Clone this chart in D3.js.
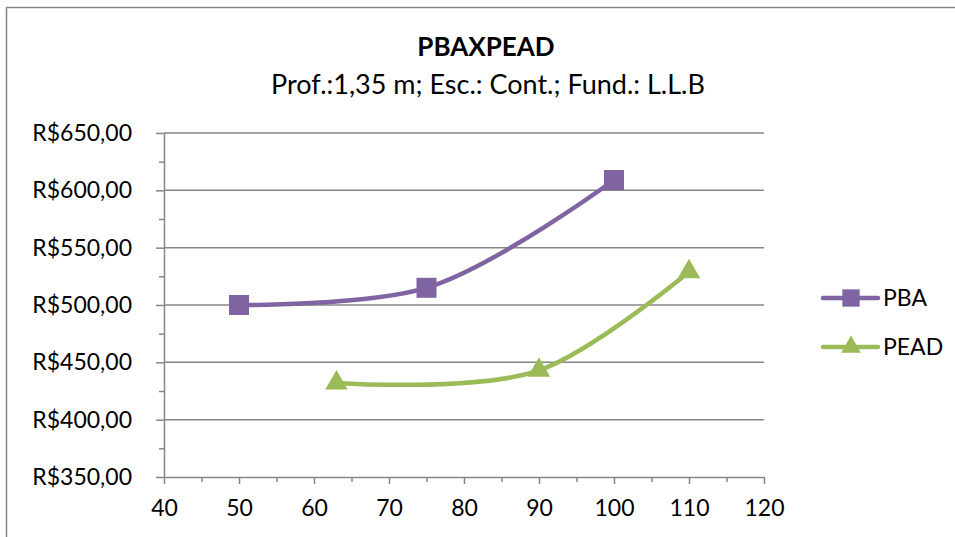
<!DOCTYPE html>
<html>
<head>
<meta charset="utf-8">
<script src="https://cdn.jsdelivr.net/npm/d3@7"></script>
<style>
  body { margin: 0; background: #fff; }
  svg text { font-family: Lato, "Open Sans", sans-serif; fill: #000; }
</style>
</head>
<body>
<div id="container"></div>
<script>
/* CONSTANTS AND GLOBALS */
const width = 955;
const height = 537;
const margin = { top: 133, bottom: 60, left: 164, right: 191 };

const title = "PBAXPEAD";
const subtitle = "Prof.:1,35 m; Esc.: Cont.; Fund.: L.L.B";

// series data
const seriesNames = ["PBA", "PEAD"];
const pbaX = [50, 75, 100];
const pbaY = [500, 515, 609];
const peadX = [63, 90, 110];
const peadY = [432, 443, 529];
const colors = ["#8064A2", "#9BBB59"];

const xTicks = [40, 50, 60, 70, 80, 90, 100, 110, 120];
const yTicks = [350, 400, 450, 500, 550, 600, 650];

const series = [
  { name: seriesNames[0], color: colors[0], symbol: d3.symbolSquare, pts: pbaX.map((x, i) => ({ x, y: pbaY[i] })) },
  { name: seriesNames[1], color: colors[1], symbol: d3.symbolTriangle, pts: peadX.map((x, i) => ({ x, y: peadY[i] })) }
];

const svg = d3.select("#container")
  .append("svg")
  .attr("width", width)
  .attr("height", height);

// chart border (only left + top visible in crop)
svg.append("rect")
  .attr("x", 6.5).attr("y", 7.5)
  .attr("width", width + 10).attr("height", height + 10)
  .attr("fill", "none")
  .attr("stroke", "#868686")
  .attr("stroke-width", 1.5);

/* SCALES */
const xScale = d3.scaleLinear()
  .domain([40, 120])
  .range([margin.left, width - margin.right]);

const yScale = d3.scaleLinear()
  .domain([350, 650])
  .range([height - margin.bottom, margin.top]);

// gridlines
svg.append("g")
  .selectAll("line")
  .data(yTicks.slice(1))
  .join("line")
  .attr("x1", xScale(40)).attr("x2", xScale(120))
  .attr("y1", d => yScale(d)).attr("y2", d => yScale(d))
  .attr("stroke", "#868686")
  .attr("stroke-width", 1.5);

// minor ticks
svg.append("g")
  .attr("transform", `translate(0,${yScale(350)})`)
  .call(d3.axisBottom(xScale).tickValues(d3.range(45, 120, 10)).tickSize(5).tickFormat(""))
  .call(g => g.select(".domain").remove())
  .call(g => g.selectAll("line").attr("stroke", "#868686").attr("stroke-width", 1.5));

svg.append("g")
  .attr("transform", `translate(${xScale(40)},0)`)
  .call(d3.axisLeft(yScale).tickValues(d3.range(375, 650, 50)).tickSize(5).tickFormat(""))
  .call(g => g.select(".domain").remove())
  .call(g => g.selectAll("line").attr("stroke", "#868686").attr("stroke-width", 1.5));

// major axes
svg.append("g")
  .attr("transform", `translate(0,${yScale(350)})`)
  .call(d3.axisBottom(xScale).tickValues(xTicks).tickSize(7).tickSizeOuter(0).tickPadding(16))
  .call(g => g.select(".domain").attr("stroke", "#868686").attr("stroke-width", 1.5))
  .call(g => g.selectAll("line").attr("stroke", "#868686").attr("stroke-width", 1.5))
  .call(g => g.selectAll("text").attr("font-size", 23).attr("font-family", null));

const fmt = d => "R$" + d3.format(".2f")(d).replace(".", ",");
svg.append("g")
  .attr("transform", `translate(${xScale(40)},0)`)
  .call(d3.axisLeft(yScale).tickValues(yTicks).tickSize(8).tickSizeOuter(0).tickPadding(24).tickFormat(fmt))
  .call(g => g.select(".domain").attr("stroke", "#868686").attr("stroke-width", 1.5))
  .call(g => g.selectAll("line").attr("stroke", "#868686").attr("stroke-width", 1.5))
  .call(g => g.selectAll("text").attr("font-size", 23).attr("font-family", null));

// lines
const line = d3.line()
  .x(d => xScale(d.x))
  .y(d => yScale(d.y))
  .curve(d3.curveCatmullRom.alpha(1));

series.forEach(s => {
  svg.append("path")
    .datum(s.pts)
    .attr("d", line)
    .attr("fill", "none")
    .attr("stroke", s.color)
    .attr("stroke-width", 4.5)
    .attr("stroke-linecap", "round");

  svg.append("g")
    .selectAll("path")
    .data(s.pts)
    .join("path")
    .attr("transform", d => `translate(${xScale(d.x)},${yScale(d.y)})`)
    .attr("d", d3.symbol().type(s.symbol).size(s.symbol === d3.symbolSquare ? 400 : 220))
    .attr("fill", s.color);
});

// legend
const legend = svg.append("g")
  .selectAll("g")
  .data(series)
  .join("g")
  .attr("transform", (d, i) => `translate(823,${298 + i * 49})`);

legend.append("line")
  .attr("x1", 0).attr("x2", 55)
  .attr("stroke", d => d.color)
  .attr("stroke-width", 4.5)
  .attr("stroke-linecap", "round");

legend.append("path")
  .attr("transform", "translate(28,0)")
  .attr("d", d => d3.symbol().type(d.symbol).size(d.symbol === d3.symbolSquare ? 300 : 170)())
  .attr("fill", d => d.color);

legend.append("text")
  .attr("x", 60)
  .attr("dy", "0.35em")
  .attr("font-size", 23)
  .text(d => d.name);

// titles
svg.append("text")
  .attr("x", 486).attr("y", 56)
  .attr("text-anchor", "middle")
  .attr("font-size", 26)
  .attr("font-weight", "bold")
  .text(title);

svg.append("text")
  .attr("x", 488).attr("y", 94)
  .attr("text-anchor", "middle")
  .attr("font-size", 27)
  .text(subtitle);
</script>
</body>
</html>
